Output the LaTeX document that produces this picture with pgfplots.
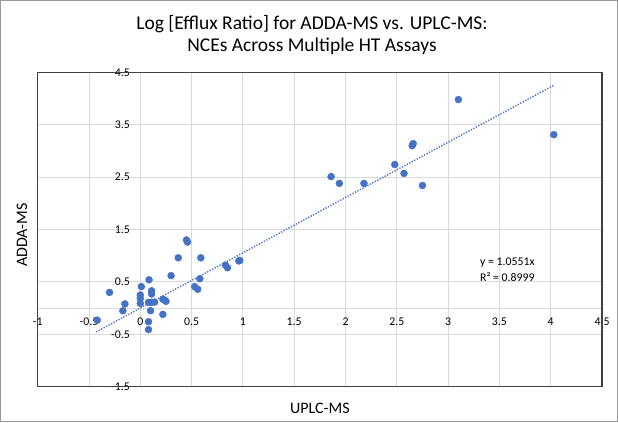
\documentclass[border=0pt]{standalone}
\usepackage{fontspec}
\setmainfont{Carlito}
\usepackage{pgfplots}
\pgfplotsset{compat=1.18}
\definecolor{xlblue}{HTML}{4472C4}
\definecolor{gridc}{HTML}{D9D9D9}
\definecolor{framec}{HTML}{404040}
\begin{document}
\begin{tikzpicture}[x=1bp,y=1bp]
\draw[line width=0.8bp, color=gray!80] (0.4,0.4) rectangle (617.6,421.6);
\node[anchor=base, font=\fontsize{19.5bp}{22bp}\selectfont] at (312,392.7) {Log [Efflux Ratio] for ADDA-MS vs. UPLC-MS:};
\node[anchor=base, font=\fontsize{19.5bp}{22bp}\selectfont] at (312,370.3) {NCEs Across Multiple HT Assays};
\begin{axis}[
  at={(37.7bp,35.3bp)}, anchor=south west,
  width=564.3bp, height=314.4bp, scale only axis,
  xmin=-1, xmax=4.5, ymin=-1.5, ymax=4.5,
  axis x line=middle, axis y line=middle,
  axis line style={-, color=gridc, line width=1bp},
  xtick={-1,-0.5,0,0.5,1,1.5,2,2.5,3,3.5,4,4.5},
  ytick={-1.5,-0.5,0.5,1.5,2.5,3.5,4.5},
  hide obscured x ticks=false, hide obscured y ticks=false,
  major tick length=0pt,
  grid=major, major grid style={color=gridc, line width=1bp},
  tick label style={font=\fontsize{11.8bp}{13bp}\selectfont},
  /pgf/number format/assume math mode=true,
  xticklabel style={anchor=north, yshift=-6bp},
  yticklabel style={anchor=east, xshift=-7bp},
  xlabel={UPLC-MS}, ylabel={ADDA-MS},
  every axis x label/.style={at={(rel axis cs:0.5,0)}, anchor=center, yshift=-21.5bp, font=\fontsize{16bp}{18bp}\selectfont},
  every axis y label/.style={at={(rel axis cs:-0.0278,0.4825)}, anchor=center, rotate=90, font=\fontsize{16bp}{18bp}\selectfont},
  clip=false,
]
\addplot[color=xlblue, line width=1.4bp, dash pattern=on 1.3bp off 1.5bp] coordinates {(-0.43,-0.4537) (4.03,4.2521)};
\addplot[only marks, mark=*, mark size=3.5bp, color=xlblue, mark options={fill=xlblue, draw=xlblue}] coordinates {
(3.10,3.98) (4.03,3.31) (1.86,2.51) (1.94,2.38) (2.18,2.38) (2.48,2.74) (2.57,2.57)
(2.65,3.10) (2.66,3.14) (2.75,2.34)
(0.45,1.30) (0.46,1.26) (0.37,0.96) (0.59,0.96) (0.83,0.82) (0.85,0.77) (0.96,0.90) (0.97,0.91)
(0.30,0.62) (0.58,0.56) (0.53,0.41) (0.56,0.36)
(0.085,0.54) (0.01,0.41) (-0.30,0.30) (0.11,0.33) (0.11,0.27) (0.00,0.25) (0.00,0.185) (0.00,0.09)
(0.08,0.11) (0.11,0.11) (0.14,0.115) (0.22,0.17) (0.24,0.15) (0.25,0.13)
(-0.15,0.08) (-0.17,-0.05) (0.10,-0.05) (0.22,-0.12) (0.08,-0.26) (0.08,-0.41) (-0.42,-0.23)
};
\draw[line width=1.2bp, color=framec] (rel axis cs:0,0) rectangle (rel axis cs:1,1);
\node[anchor=west, font=\fontsize{11.8bp}{13bp}\selectfont, inner sep=0pt] at (axis cs:3.31,0.86) {y = 1.0551x};
\node[anchor=west, font=\fontsize{11.8bp}{13bp}\selectfont, inner sep=0pt] at (axis cs:3.31,0.59) {R² = 0.8999};
\end{axis}
\end{tikzpicture}
\end{document}
